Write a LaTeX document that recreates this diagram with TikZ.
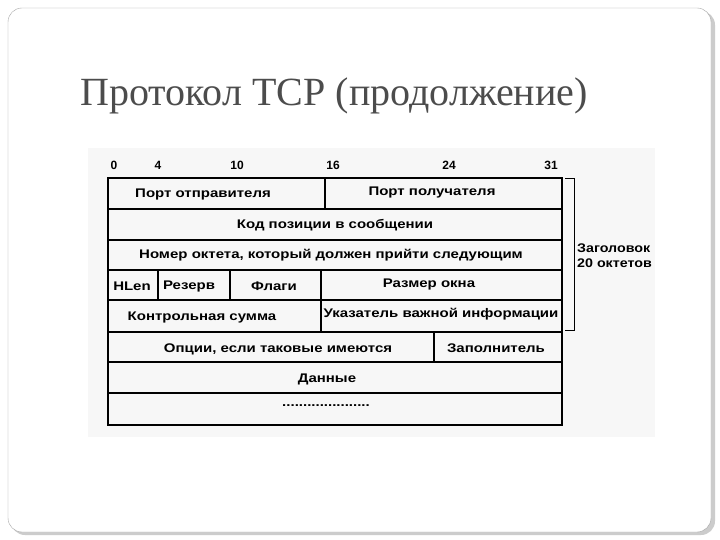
\documentclass[tikz,border=0pt]{standalone}
\usepackage{fontspec}
\setmainfont{Liberation Sans}
\newfontfamily\titlefont{Liberation Serif}
\begin{document}
\begin{tikzpicture}[x=1pt,y=-1pt,
  lab/.style={font=\bfseries\fontsize{12.5}{14}\selectfont, inner sep=0pt, xscale=1.2},
  num/.style={font=\bfseries\fontsize{12}{14}\selectfont, inner sep=0pt},
  cell/.style={line width=1.2pt}]
\useasboundingbox (0,0) rectangle (720,540);
\fill[white] (0,0) rectangle (720,540);
\fill[gray!40, rounded corners=14pt] (11,11) rectangle (715,535);
\draw[gray!70, fill=white, rounded corners=14pt] (8,8) rectangle (711,532);
\node[anchor=west, inner sep=0pt, text=black!70, font=\titlefont\fontsize{40}{44}\selectfont] (title) at (80,96) {Протокол TCP (продолжение)};
\fill[black!3] (88,148) rectangle (655,437);
% numbers
\node[num] (n0) at (114,165) {0};
\node[num] (n4) at (158,165) {4};
\node[num] (n10) at (237,165) {10};
\node[num] (n16) at (333,165) {16};
\node[num] (n24) at (449,165) {24};
\node[num] (n31) at (551,165) {31};
% table
\draw[line width=1.5pt] (108,178) rectangle (562,425);
\foreach \y in {209,240,270,300,332,362,393} \draw[cell] (108,\y) -- (562,\y);
\draw[cell] (325,178) -- (325,209);
\draw[cell] (158,270) -- (158,300);
\draw[cell] (230,270) -- (230,300);
\draw[cell] (321,270) -- (321,332);
\draw[cell] (434,332) -- (434,362);
\node[lab] (a1) at (203,194) {Порт отправителя};
\node[lab] (a2) at (432,192) {Порт получателя};
\node[lab] (b) at (335,225) {Код позиции в сообщении};
\node[lab] (c) at (331,255) {Номер октета, который должен прийти следующим};
\node[lab] (d1) at (132,286) {HLen};
\node[lab] (d2) at (189,286) {Резерв};
\node[lab] (d3) at (274,286) {Флаги};
\node[lab] (d4) at (429,284) {Размер окна};
\node[lab] (e1) at (202,317) {Контрольная сумма};
\node[lab] (e2) at (441,314) {Указатель важной информации};
\node[lab] (f1) at (278,349) {Опции, если таковые имеются};
\node[lab] (f2) at (496,348) {Заполнитель};
\node[lab] (g) at (327,379) {Данные};
\node[lab] (h) at (326,406) {.....................};
% bracket
\draw[line width=0.8pt] (565,178) -- (574,178) -- (574,330) -- (565,330);
\node[lab, anchor=west, align=left, xscale=0.95] (hdr) at (577,256) {Заголовок\\[1pt]20 октетов};
\end{tikzpicture}
\end{document}
